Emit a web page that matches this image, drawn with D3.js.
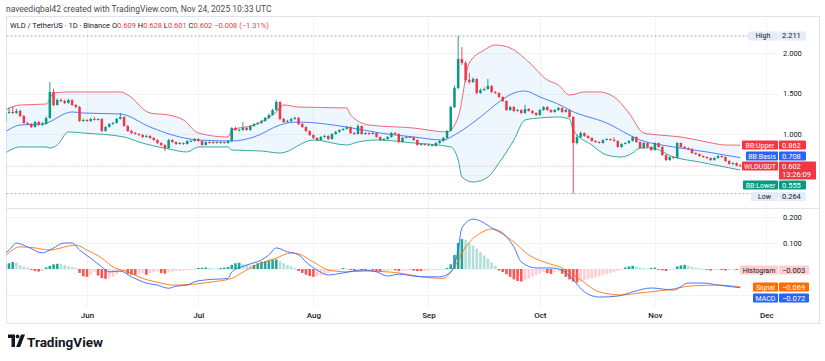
<!DOCTYPE html>
<html><head><meta charset="utf-8">
<script src="https://cdn.jsdelivr.net/npm/d3@7/dist/d3.min.js"></script>
<style>
html,body{margin:0;padding:0;background:#fff;}
svg{display:block;font-family:Roboto,"Noto Sans",Arial,sans-serif;}
</style></head><body>
<svg id="chart" width="825" height="361"></svg>
<script>
// ---------- DATA (daily candles WLD/USDT, 2025-05-10 .. 2025-11-24) ----------
const startDate = "2025-05-10";
const endDate = "2025-11-24";
const open = [1.148,1.259,1.272,1.259,1.284,1.222,1.136,1.123,1.086,1.148,
1.111,1.123,1.198,1.519,1.358,1.420,1.407,1.383,1.420,1.358,
1.333,1.160,1.173,1.160,1.185,1.173,1.185,1.037,1.086,1.123,
1.136,1.185,1.210,1.099,1.037,1.012,1.000,0.988,0.963,0.975,
0.951,0.926,0.889,0.864,0.827,0.926,0.901,0.877,0.889,0.877,
0.914,0.914,0.938,0.914,0.864,0.901,0.889,0.901,0.889,0.901,
0.889,0.914,1.074,1.049,1.049,1.074,1.049,1.099,1.123,1.136,
1.160,1.198,1.235,1.296,1.395,1.185,1.148,1.160,1.185,1.198,
1.123,1.086,1.037,0.988,0.951,0.926,0.963,0.975,0.938,1.000,
1.025,1.049,1.062,1.086,1.012,1.000,1.099,1.000,1.012,1.000,
1.012,0.963,0.926,0.938,0.963,1.012,1.000,0.901,0.951,0.963,
0.960,0.926,0.864,0.877,0.864,0.866,0.852,0.889,0.914,0.951,
1.037,1.333,1.568,1.926,1.877,1.667,1.642,1.679,1.506,1.543,
1.556,1.593,1.519,1.506,1.457,1.407,1.296,1.333,1.284,1.296,
1.259,1.309,1.284,1.259,1.235,1.296,1.333,1.296,1.272,1.296,
1.321,1.272,1.296,1.210,0.889,0.963,1.012,0.975,0.951,0.914,
0.901,0.889,0.926,0.938,0.926,0.914,0.840,0.877,0.889,0.914,
0.963,0.901,0.827,0.889,0.840,0.802,0.889,0.840,0.741,0.679,
0.716,0.704,0.889,0.840,0.827,0.815,0.765,0.753,0.728,0.716,
0.704,0.679,0.704,0.728,0.716,0.667,0.630,0.642,0.609];
const high = [1.290,1.330,1.340,1.310,1.300,1.235,1.150,1.135,1.160,1.160,
1.150,1.215,1.642,1.560,1.440,1.440,1.425,1.435,1.430,1.370,
1.345,1.190,1.185,1.200,1.210,1.195,1.195,1.100,1.135,1.150,
1.200,1.260,1.220,1.110,1.050,1.025,1.010,1.000,0.990,0.985,
0.960,0.935,0.900,0.875,0.940,0.935,0.910,0.900,0.895,0.925,
0.930,0.950,0.945,0.920,0.910,0.910,0.910,0.910,0.910,0.905,
0.925,1.085,1.090,1.065,1.148,1.085,1.110,1.135,1.150,1.175,
1.215,1.250,1.310,1.420,1.405,1.200,1.175,1.200,1.215,1.210,
1.135,1.095,1.045,0.995,0.960,0.975,0.990,0.985,1.010,1.040,
1.060,1.075,1.100,1.095,1.025,1.120,1.105,1.025,1.020,1.025,
1.020,0.970,0.950,0.975,1.025,1.025,1.010,0.960,0.975,0.975,
0.970,0.935,0.890,0.885,0.880,0.875,0.900,0.925,0.965,1.050,
1.350,1.600,2.211,2.074,1.900,1.753,1.700,1.690,1.560,1.575,
1.679,1.605,1.530,1.515,1.465,1.415,1.345,1.345,1.310,1.305,
1.360,1.320,1.295,1.270,1.310,1.345,1.345,1.305,1.310,1.335,
1.330,1.310,1.305,1.220,0.990,1.030,1.020,0.985,0.960,0.925,
0.910,0.935,0.950,0.945,0.960,0.920,0.885,0.900,0.925,0.975,
0.970,0.910,0.900,0.895,0.850,0.900,0.895,0.850,0.750,0.725,
0.725,0.900,0.895,0.850,0.835,0.825,0.775,0.760,0.735,0.725,
0.710,0.715,0.740,0.735,0.725,0.675,0.650,0.650,0.628];
const low = [1.140,1.250,1.245,1.250,1.210,1.125,1.110,1.075,1.080,1.100,
1.100,1.115,1.190,1.345,1.350,1.395,1.370,1.375,1.345,1.320,
1.150,1.150,1.150,1.150,1.165,1.165,1.025,1.030,1.080,1.115,
1.130,1.180,1.090,1.025,1.000,0.990,0.975,0.950,0.955,0.940,
0.915,0.875,0.850,0.790,0.820,0.890,0.865,0.870,0.865,0.870,
0.900,0.905,0.905,0.855,0.860,0.880,0.880,0.880,0.880,0.880,
0.880,0.905,1.040,1.035,1.040,1.040,1.040,1.090,1.110,1.125,
1.150,1.185,1.225,1.285,1.170,1.135,1.140,1.150,1.175,1.110,
1.075,1.025,0.975,0.940,0.915,0.920,0.955,0.925,0.930,0.990,
1.015,1.040,1.055,1.000,0.990,0.995,0.990,0.990,0.990,0.995,
0.955,0.915,0.915,0.930,0.955,0.990,0.885,0.895,0.945,0.950,
0.915,0.855,0.855,0.855,0.855,0.845,0.845,0.880,0.905,0.945,
1.030,1.320,1.550,1.850,1.640,1.620,1.630,1.490,1.495,1.530,
1.545,1.505,1.495,1.445,1.395,1.285,1.285,1.270,1.275,1.245,
1.250,1.275,1.245,1.220,1.225,1.285,1.285,1.260,1.265,1.285,
1.260,1.265,1.200,0.264,0.870,0.950,0.965,0.940,0.905,0.890,
0.880,0.880,0.920,0.915,0.905,0.830,0.830,0.870,0.880,0.905,
0.890,0.815,0.820,0.830,0.790,0.795,0.830,0.730,0.665,0.670,
0.695,0.700,0.830,0.815,0.805,0.755,0.740,0.715,0.705,0.690,
0.665,0.670,0.695,0.705,0.655,0.620,0.620,0.600,0.601];
const close = [1.259,1.272,1.259,1.284,1.222,1.136,1.123,1.086,1.148,1.111,
1.123,1.198,1.519,1.358,1.420,1.407,1.383,1.420,1.358,1.333,
1.160,1.173,1.160,1.185,1.173,1.185,1.037,1.086,1.123,1.136,
1.185,1.210,1.099,1.037,1.012,1.000,0.988,0.963,0.975,0.951,
0.926,0.889,0.864,0.827,0.926,0.901,0.877,0.889,0.877,0.914,
0.914,0.938,0.914,0.864,0.901,0.889,0.901,0.889,0.901,0.889,
0.914,1.074,1.049,1.049,1.074,1.049,1.099,1.123,1.136,1.160,
1.198,1.235,1.296,1.395,1.185,1.148,1.160,1.185,1.198,1.123,
1.086,1.037,0.988,0.951,0.926,0.963,0.975,0.938,1.000,1.025,
1.049,1.062,1.086,1.012,1.000,1.099,1.000,1.012,1.000,1.012,
0.963,0.926,0.938,0.963,1.012,1.000,0.901,0.951,0.963,0.960,
0.926,0.864,0.877,0.864,0.866,0.852,0.889,0.914,0.951,1.037,
1.333,1.568,1.926,1.877,1.667,1.642,1.679,1.506,1.543,1.556,
1.593,1.519,1.506,1.457,1.407,1.296,1.333,1.284,1.296,1.259,
1.309,1.284,1.259,1.235,1.296,1.333,1.296,1.272,1.296,1.321,
1.272,1.296,1.210,0.889,0.963,1.012,0.975,0.951,0.914,0.901,
0.889,0.926,0.938,0.926,0.914,0.840,0.877,0.889,0.914,0.963,
0.901,0.827,0.889,0.840,0.802,0.889,0.840,0.741,0.679,0.716,
0.704,0.889,0.840,0.827,0.815,0.765,0.753,0.728,0.716,0.704,
0.679,0.704,0.728,0.716,0.667,0.630,0.642,0.609,0.602];

// Bollinger Bands, read at sample days (day number counted from startDate)
const bbUpperDay = [0,4,11,13,17,31,33,39,44,48,52,60,61,67,73,75,79,92,93,98,110,119,122,125,129,132,136,141,146,149,152,156,160,164,168,172,176,182,189,194,198];
const bbUpperVal = [1.296,1.358,1.370,1.506,1.519,1.519,1.481,1.259,1.235,1.173,1.012,0.963,1.049,1.111,1.272,1.358,1.333,1.321,1.235,1.111,1.074,1.025,1.210,1.877,2.037,2.099,2.062,1.889,1.667,1.605,1.481,1.519,1.519,1.457,1.259,1.012,0.988,0.963,0.901,0.864,0.862];
const bbBasisDay = [0,4,10,18,21,31,39,47,52,61,67,74,76,79,92,101,110,118,121,128,133,137,140,144,150,152,162,171,180,189,198];
const bbBasisVal = [1.025,1.111,1.123,1.272,1.259,1.247,1.086,0.963,0.926,0.914,0.963,1.111,1.136,1.148,1.086,1.012,0.963,0.926,0.988,1.210,1.395,1.506,1.531,1.457,1.346,1.296,1.136,0.926,0.840,0.778,0.708];
const bbLowerDay = [0,4,11,12,14,17,21,32,36,44,49,52,60,61,69,74,83,92,95,100,110,120,122,123,126,130,133,137,140,144,149,152,153,158,162,166,169,171,174,180,187,198];
const bbLowerVal = [0.765,0.840,0.840,0.827,0.864,1.025,1.012,0.963,0.901,0.815,0.778,0.840,0.840,0.802,0.790,0.765,0.926,0.864,0.901,0.926,0.889,0.840,0.679,0.469,0.407,0.469,0.642,0.926,1.173,1.198,1.210,1.185,1.049,0.864,0.741,0.716,0.765,0.827,0.827,0.716,0.654,0.555];

// MACD (12,26,9)
const macdDay = [0,1,3,6,10,12,16,18,20,23,26,28,31,34,38,41,44,46,49,51,54,60,61,65,69,71,73,76,79,81,84,87,91,96,100,103,106,112,117,120,122,123,126,129,131,134,137,139,143,147,150,153,156,160,165,169,174,180,184,188,192,196,198];
const macdVal = [0.060,0.072,0.100,0.085,0.062,0.073,0.100,0.100,0.073,0.042,0.008,-0.011,-0.008,-0.030,-0.054,-0.062,-0.074,-0.066,-0.062,-0.049,-0.042,-0.036,-0.011,0.015,0.035,0.054,0.081,0.066,0.055,0.027,-0.004,-0.023,-0.015,-0.004,-0.011,-0.027,-0.020,-0.030,-0.030,-0.011,0.073,0.158,0.192,0.177,0.158,0.138,0.085,0.027,0.004,0.004,-0.004,-0.042,-0.088,-0.108,-0.104,-0.088,-0.073,-0.081,-0.054,-0.054,-0.062,-0.069,-0.072];
const signalDay = [0,4,8,12,17,19,22,26,29,33,37,42,45,51,56,61,65,69,73,77,79,83,87,92,97,106,112,118,121,124,128,131,133,137,141,146,150,155,160,166,171,178,185,192,198];
const signalVal = [0.050,0.085,0.081,0.073,0.088,0.092,0.073,0.042,0.008,-0.011,-0.036,-0.054,-0.062,-0.058,-0.049,-0.036,-0.004,0.023,0.042,0.062,0.058,0.027,-0.004,-0.011,-0.008,-0.015,-0.030,-0.036,0.008,0.085,0.138,0.154,0.142,0.104,0.054,0.023,0.004,-0.042,-0.088,-0.100,-0.092,-0.081,-0.065,-0.062,-0.069];
const histogram = [0.019,0.022,0.027,0.025,0.015,0.010,0.006,-0.004,-0.008,-0.010,
-0.008,0.006,0.012,0.018,0.020,0.020,0.015,0.010,0.007,0.004,
-0.015,-0.028,-0.030,-0.022,-0.012,-0.025,-0.035,-0.038,-0.036,-0.030,
-0.020,-0.012,-0.008,-0.018,-0.022,-0.023,-0.020,-0.015,-0.022,-0.016,
-0.012,-0.010,-0.016,-0.018,-0.012,-0.010,-0.008,-0.007,-0.006,-0.005,
-0.004,-0.002,0.004,0.005,0.006,0.004,0.003,0.002,0.004,0.005,
0.008,0.016,0.022,0.024,0.020,0.017,0.014,0.016,0.022,0.028,
0.030,0.033,0.036,0.037,0.030,0.022,0.015,0.010,0.004,-0.008,
-0.015,-0.022,-0.027,-0.030,-0.029,-0.025,-0.020,-0.016,-0.010,-0.006,
-0.003,0.004,0.002,-0.004,-0.006,-0.002,-0.005,-0.006,-0.005,-0.006,
-0.008,-0.010,-0.009,-0.007,-0.004,-0.005,-0.008,-0.007,-0.006,-0.005,
-0.006,-0.008,-0.008,-0.007,-0.006,-0.005,-0.004,-0.003,-0.001,0.004,
0.018,0.054,0.100,0.115,0.112,0.100,0.090,0.078,0.066,0.052,
0.040,0.025,0.012,-0.006,-0.012,-0.020,-0.030,-0.040,-0.046,-0.048,
-0.043,-0.037,-0.030,-0.024,-0.018,-0.012,-0.016,-0.019,-0.012,-0.010,
-0.018,-0.030,-0.040,-0.048,-0.052,-0.048,-0.044,-0.040,-0.036,-0.032,
-0.028,-0.024,-0.020,-0.016,-0.012,-0.008,-0.004,0.006,0.010,0.012,
0.010,0.006,0.004,0.002,0.004,0.005,-0.002,-0.005,-0.008,-0.004,
-0.002,0.010,0.014,0.016,0.012,0.008,0.005,0.003,0.001,-0.003,
-0.006,-0.004,-0.002,-0.004,-0.006,-0.005,-0.004,-0.004,-0.003];

const priceGrid = [0.5, 1.0, 1.5, 2.0];
const priceTickLabels = [1.0, 1.5, 2.0];
const macdGrid = [-0.1, 0, 0.1, 0.2];
const macdTickLabels = [0.1, 0.2];
const highVal = 2.211, lowVal = 0.264, lastVal = 0.602;
const headerText = "naveediqbal42 created with TradingView.com, Nov 24, 2025 10:33 UTC";

// ---------- SETUP ----------
const C = {green:"#089981", red:"#f23645", blue:"#2962ff", orange:"#ff6d00", grid:"#f0f3fa", text:"#131722", border:"#e0e3eb"};
const svg = d3.select("#chart");
svg.append("rect").attr("width",825).attr("height",361).attr("fill","#fff");
const parse = d3.utcParse("%Y-%m-%d");
const t0 = parse(startDate), t1 = parse(endDate);
const days = d3.utcDay.range(t0, d3.utcDay.offset(t1, 1));
const x = d3.scaleUtc().domain([t0, t1]).range([5.3, 740.3]);
const yP = d3.scaleLinear().domain([0, 2]).range([215, 53]);
const yM = d3.scaleLinear().domain([-0.1, 0.2]).range([295, 217]);
const PL = 6.5, PR = 779, PT = 17, PB = 208, MB = 307;

const defs = svg.append("defs");
defs.append("clipPath").attr("id","pclip").append("rect").attr("x",PL).attr("y",PT).attr("width",PR-PL).attr("height",PB-PT);
defs.append("clipPath").attr("id","mclip").append("rect").attr("x",PL).attr("y",PB).attr("width",PR-PL).attr("height",MB-PB);

// grid
const months = d3.utcMonth.range(parse("2025-06-01"), parse("2025-12-02"));
svg.append("g").selectAll("line").data(months).join("line")
  .attr("x1", d=>Math.round(x(d))+0.5).attr("x2", d=>Math.round(x(d))+0.5)
  .attr("y1", PT).attr("y2", MB).attr("stroke", C.grid);
svg.append("g").selectAll("line").data(priceGrid).join("line")
  .attr("x1", PL).attr("x2", PR).attr("y1", d=>Math.round(yP(d))+0.5).attr("y2", d=>Math.round(yP(d))+0.5).attr("stroke", C.grid);
svg.append("g").selectAll("line").data(macdGrid).join("line")
  .attr("x1", PL).attr("x2", PR).attr("y1", d=>Math.round(yM(d))+0.5).attr("y2", d=>Math.round(yM(d))+0.5).attr("stroke", C.grid);

// frame
svg.append("rect").attr("x",PL).attr("y",PT-0.5).attr("width",819.5-PL).attr("height",323.5-PT+0.5).attr("fill","none").attr("stroke",C.border);
svg.append("line").attr("x1",PL).attr("x2",819.5).attr("y1",PB+0.5).attr("y2",PB+0.5).attr("stroke",C.border);

// ---------- PRICE PANE ----------
const gp = svg.append("g").attr("clip-path","url(#pclip)");
const pts = (ds, vs, y) => ds.map((d,i)=>[x(days[d]), y(vs[i])]);
const upPts = pts(bbUpperDay, bbUpperVal, yP), baPts = pts(bbBasisDay, bbBasisVal, yP), loPts = pts(bbLowerDay, bbLowerVal, yP);
const curve = d3.curveMonotoneX;
defs.append("clipPath").attr("id","underUp").append("path")
  .attr("d", d3.area().curve(curve).x(p=>p[0]).y0(400).y1(p=>p[1])(upPts));
gp.append("g").attr("clip-path","url(#underUp)").append("path")
  .attr("d", d3.area().curve(curve).x(p=>p[0]).y0(0).y1(p=>p[1])(loPts))
  .attr("fill","rgba(33,150,243,0.075)");
const line = d3.line().curve(curve);
gp.append("path").attr("d", line(upPts)).attr("fill","none").attr("stroke",C.red).attr("stroke-opacity",0.75).attr("stroke-width",1);
gp.append("path").attr("d", line(baPts)).attr("fill","none").attr("stroke",C.blue).attr("stroke-opacity",0.8).attr("stroke-width",1);
gp.append("path").attr("d", line(loPts)).attr("fill","none").attr("stroke",C.green).attr("stroke-opacity",0.8).attr("stroke-width",1);

// high / low / last price lines
gp.append("line").attr("x1",PL).attr("x2",PR).attr("y1",yP(highVal)).attr("y2",yP(highVal)).attr("stroke","#9598a1").attr("stroke-dasharray","2,2").attr("stroke-width",0.8);
gp.append("line").attr("x1",PL).attr("x2",PR).attr("y1",yP(lowVal)).attr("y2",yP(lowVal)).attr("stroke","#9598a1").attr("stroke-dasharray","2,2").attr("stroke-width",0.8);
gp.append("line").attr("x1",PL).attr("x2",PR).attr("y1",yP(lastVal)).attr("y2",yP(lastVal)).attr("stroke",C.red).attr("stroke-opacity",0.6).attr("stroke-dasharray","1,2").attr("stroke-width",0.8);

// candles
const idx = d3.range(close.length);
const cg = gp.append("g");
const col = i => close[i] >= open[i] ? C.green : C.red;
cg.selectAll("line").data(idx).join("line")
  .attr("x1", i=>x(days[i])).attr("x2", i=>x(days[i]))
  .attr("y1", i=>yP(high[i])).attr("y2", i=>yP(low[i]))
  .attr("stroke", col).attr("stroke-width", 0.9);
const bw = 2.5;
cg.selectAll("rect").data(idx).join("rect")
  .attr("x", i=>x(days[i])-bw/2).attr("width", bw)
  .attr("y", i=>yP(Math.max(open[i],close[i])))
  .attr("height", i=>Math.max(0.9, Math.abs(yP(open[i])-yP(close[i]))))
  .attr("fill", col);

// ---------- MACD PANE ----------
const gm = svg.append("g").attr("clip-path","url(#mclip)");
const hcol = i => {
  const v = histogram[i], p = i>0 ? histogram[i-1] : 0;
  if (v >= 0) return p < v ? "#26a69a" : "#b2dfdb";
  return p < v ? "#ffcdd2" : "#ff5252";
};
const hb = 2.6;
gm.selectAll("rect").data(idx).join("rect")
  .attr("x", i=>x(days[i])-hb/2).attr("width", hb)
  .attr("y", i=>Math.min(yM(0), yM(histogram[i])))
  .attr("height", i=>Math.max(0.8, Math.abs(yM(histogram[i])-yM(0))))
  .attr("fill", hcol);
gm.append("path").attr("d", line(pts(signalDay, signalVal, yM))).attr("fill","none").attr("stroke",C.orange).attr("stroke-opacity",0.85).attr("stroke-width",1);
gm.append("path").attr("d", line(pts(macdDay, macdVal, yM))).attr("fill","none").attr("stroke",C.blue).attr("stroke-opacity",0.85).attr("stroke-width",1);

// ---------- AXES ----------
const fmt = d3.format(".3f");
const ap = svg.append("g").attr("transform","translate(783,0)")
  .call(d3.axisRight(yP).tickValues(priceTickLabels).tickFormat(fmt).tickSize(0).tickPadding(0));
const am = svg.append("g").attr("transform","translate(783,0)")
  .call(d3.axisRight(yM).tickValues(macdTickLabels).tickFormat(fmt).tickSize(0).tickPadding(0));
const at = svg.append("g").attr("transform",`translate(0,${MB+2})`)
  .call(d3.axisBottom(x).tickValues(months).tickFormat(d3.utcFormat("%b")).tickSize(0).tickPadding(3));
[ap, am, at].forEach(g=>{
  g.select(".domain").remove();
  g.selectAll("text").attr("fill",C.text).attr("font-size",7.5).attr("font-family",'Roboto,"Noto Sans",Arial,sans-serif');
});
at.selectAll("text").attr("font-size",8).attr("font-weight",500);

// ---------- TAGS ----------
function tag(y, name, val, bg, fg, x0, x1) {
  const g = svg.append("g");
  g.append("rect").attr("x",x0).attr("y",y-4.5).attr("width",778-x0).attr("height",9).attr("rx",1).attr("fill",bg);
  g.append("rect").attr("x",779).attr("y",y-4.5).attr("width",(x1||806)-779).attr("height",9).attr("rx",1).attr("fill",bg);
  g.append("text").attr("x",(x0+778)/2).attr("y",y+2.5).attr("text-anchor","middle").attr("font-size",7).attr("fill",fg).text(name);
  g.append("text").attr("x",782).attr("y",y+2.5).attr("font-size",7.5).attr("fill",fg).text(val);
  return g;
}
tag(yP(highVal), "High", fmt(highVal), "#e4ecf7", C.text, 748);
tag(145, "BB:Upper", "0.862", C.red, "#fff", 742);
tag(156, "BB:Basis", "0.708", C.blue, "#fff", 746);
const wl = tag(166, "WLDUSDT", fmt(lastVal), C.red, "#fff", 742, 816);
wl.append("rect").attr("x",779).attr("y",169).attr("width",37).attr("height",10.5).attr("fill",C.red);
wl.append("text").attr("x",782).attr("y",177).attr("font-size",7.5).attr("fill","#fff").text("13:26:09");
tag(185, "BB:Lower", "0.555", C.green, "#fff", 743);
tag(196.5, "Low", fmt(lowVal), "#e4ecf7", C.text, 751);
tag(270, "Histogram", "\u22120.003", "#ffcdd2", C.text, 740, 809);
tag(287, "Signal", "\u22120.069", C.orange, "#fff", 753, 809);
tag(298, "MACD", "\u22120.072", C.blue, "#fff", 753, 809);

// ---------- HEADER ----------
svg.append("text").attr("x",6).attr("y",12).attr("font-size",8.5).attr("fill","#4a4a4a").text(headerText);
const h2 = svg.append("text").attr("x",10).attr("y",28).attr("font-size",7.5).attr("fill",C.text);
h2.append("tspan").text("WLD / TetherUS \u00b7 1D \u00b7 Binance  ");
[["O","0.609"],["H","0.628"],["L","0.601"],["C","0.602"]].forEach(([k,v])=>{
  h2.append("tspan").attr("fill",C.text).text(" "+k);
  h2.append("tspan").attr("fill",C.red).text(v);
});
h2.append("tspan").attr("fill",C.red).text("  \u22120.008 (\u22121.31%)");

// ---------- LOGO ----------
const lg = svg.append("g").attr("fill",C.text);
lg.append("path").attr("d","M8,334.5 H15 V347 H11.5 V338 H8 Z");
lg.append("circle").attr("cx",17.6).attr("cy",336.4).attr("r",1.9);
lg.append("path").attr("d","M21,334.5 H25 L20.2,347 H16.2 Z");
svg.append("text").attr("x",27).attr("y",346.5).attr("font-size",13.5).attr("font-weight",700).attr("fill",C.text).text("TradingView");
</script></body></html>
